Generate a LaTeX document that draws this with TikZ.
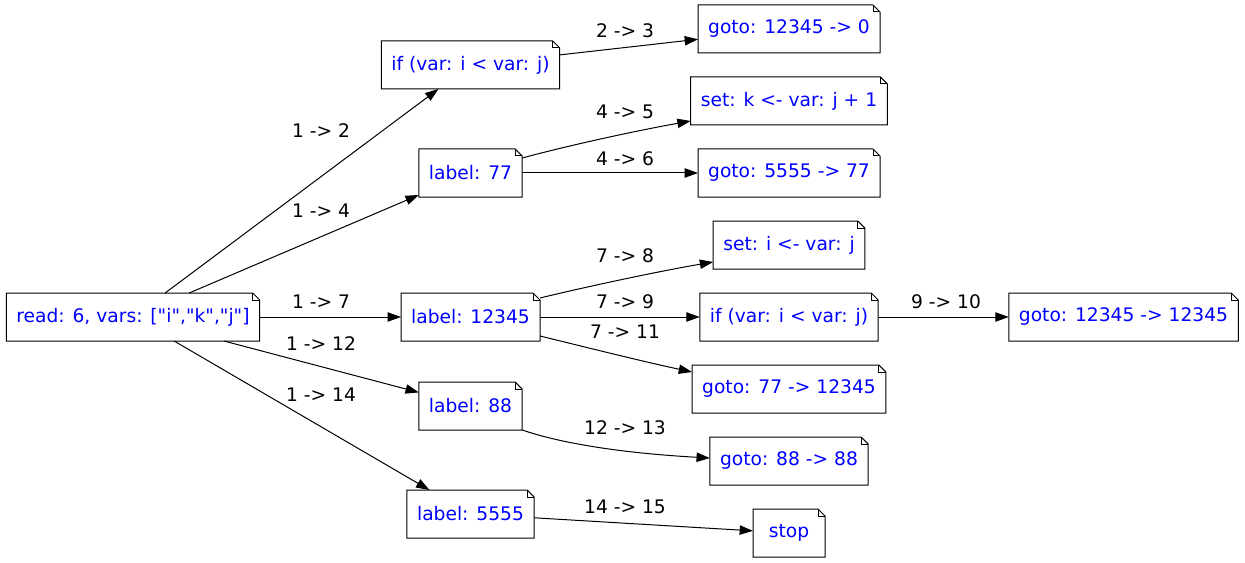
\documentclass[tikz,border=0pt]{standalone}
\usepackage{fontspec}
\setmainfont{DejaVu Sans}[Ligatures=TeXOff]
\usetikzlibrary{calc,arrows.meta}
\begin{document}
\begin{tikzpicture}[x=0.75pt,y=-0.75pt,
  stmt/.style={font=\fontsize{14}{16}\selectfont, text=blue, inner xsep=7.6pt, inner ysep=0pt,
               minimum height=36pt, minimum width=54pt, outer sep=0pt},
  elabel/.style={font=\fontsize{14}{16}\selectfont, text=black, inner sep=0pt},
  edge/.style={draw=black, line width=0.75pt, -{Triangle[length=10pt,width=7pt]}},
  outline/.style={draw=black, line width=0.75pt}]
\useasboundingbox (0,0) rectangle (1245,563);

% statement nodes
\node[stmt] (read)  at (133,317)    {read: 6, vars: ["i","k","j"]};
\node[stmt] (if1)   at (470.5,65)   {if (var: i < var: j)};
\node[stmt] (g0)    at (789,29)     {goto: 12345 -> 0};
\node[stmt] (setk)  at (789,101)    {set: k <- var: j + 1};
\node[stmt] (l77)   at (470.5,173)  {label: 77};
\node[stmt] (g77)   at (789,173)    {goto: 5555 -> 77};
\node[stmt] (seti)  at (789,245)    {set: i <- var: j};
\node[stmt] (l12345) at (470.5,317) {label: 12345};
\node[stmt] (if2)   at (789,317)    {if (var: i < var: j)};
\node[stmt] (gself) at (1123.5,317) {goto: 12345 -> 12345};
\node[stmt] (gback) at (789,389)    {goto: 77 -> 12345};
\node[stmt] (l88)   at (470.5,406)  {label: 88};
\node[stmt] (g88)   at (789,461)    {goto: 88 -> 88};
\node[stmt] (l5555) at (470.5,514)  {label: 5555};
\node[stmt] (stop)  at (789,533)    {stop};

% note outlines with folded corner
\foreach \n in {read,if1,g0,setk,l77,g77,seti,l12345,if2,gself,gback,l88,g88,l5555,stop}{
  \draw[outline] (\n.south west) -- (\n.south east) -- ($(\n.north east)+(0,7)$)
    -- ($(\n.north east)+(-7,0)$) -- (\n.north west) -- cycle;
  \draw[outline] ($(\n.north east)+(-7,0)$) -- ($(\n.north east)+(-7,7)$)
    -- ($(\n.north east)+(0,7)$);
}

% edges
\draw[edge] (read) -- (if1);
\draw[edge] (read) -- (l77);
\draw[edge] (read) -- (l12345);
\draw[edge] (read) -- (l88);
\draw[edge] (read) -- (l5555);
\draw[edge] (if1) -- (g0);
\draw[edge] ($(l77.east)+(0,-15)$) .. controls (570,145) and (640,130) .. ($(setk.west)+(0,20)$);
\draw[edge] (l77) -- (g77);
\draw[edge] ($(l12345.east)+(0,-19)$) .. controls (585,287) and (660,271) .. ($(seti.west)+(0,17)$);
\draw[edge] (l12345) -- (if2);
\draw[edge] ($(l12345.east)+(0,19)$) .. controls (585,347) and (645,362) .. ($(gback.west)+(0,-17)$);
\draw[edge] (if2) -- (gself);
\draw[edge] (l88.south east) .. controls (560,443) and (620,453) .. ($(g88.west)+(0,-3)$);
\draw[edge] (l5555) -- (stop);

% edge labels
\node[elabel] (e12)   at (321,131) {1 -> 2};
\node[elabel] (e14)   at (321,211) {1 -> 4};
\node[elabel] (e17)   at (321,302) {1 -> 7};
\node[elabel] (e112)  at (321,344) {1 -> 12};
\node[elabel] (e114)  at (321,395) {1 -> 14};
\node[elabel] (e23)   at (625,31)  {2 -> 3};
\node[elabel] (e45)   at (625,112) {4 -> 5};
\node[elabel] (e46)   at (625,159) {4 -> 6};
\node[elabel] (e78)   at (625,256) {7 -> 8};
\node[elabel] (e79)   at (625,302) {7 -> 9};
\node[elabel] (e711)  at (625,332) {7 -> 11};
\node[elabel] (e910)  at (946,302) {9 -> 10};
\node[elabel] (e1213) at (625,428) {12 -> 13};
\node[elabel] (e1415) at (625,507) {14 -> 15};
\end{tikzpicture}
\end{document}
